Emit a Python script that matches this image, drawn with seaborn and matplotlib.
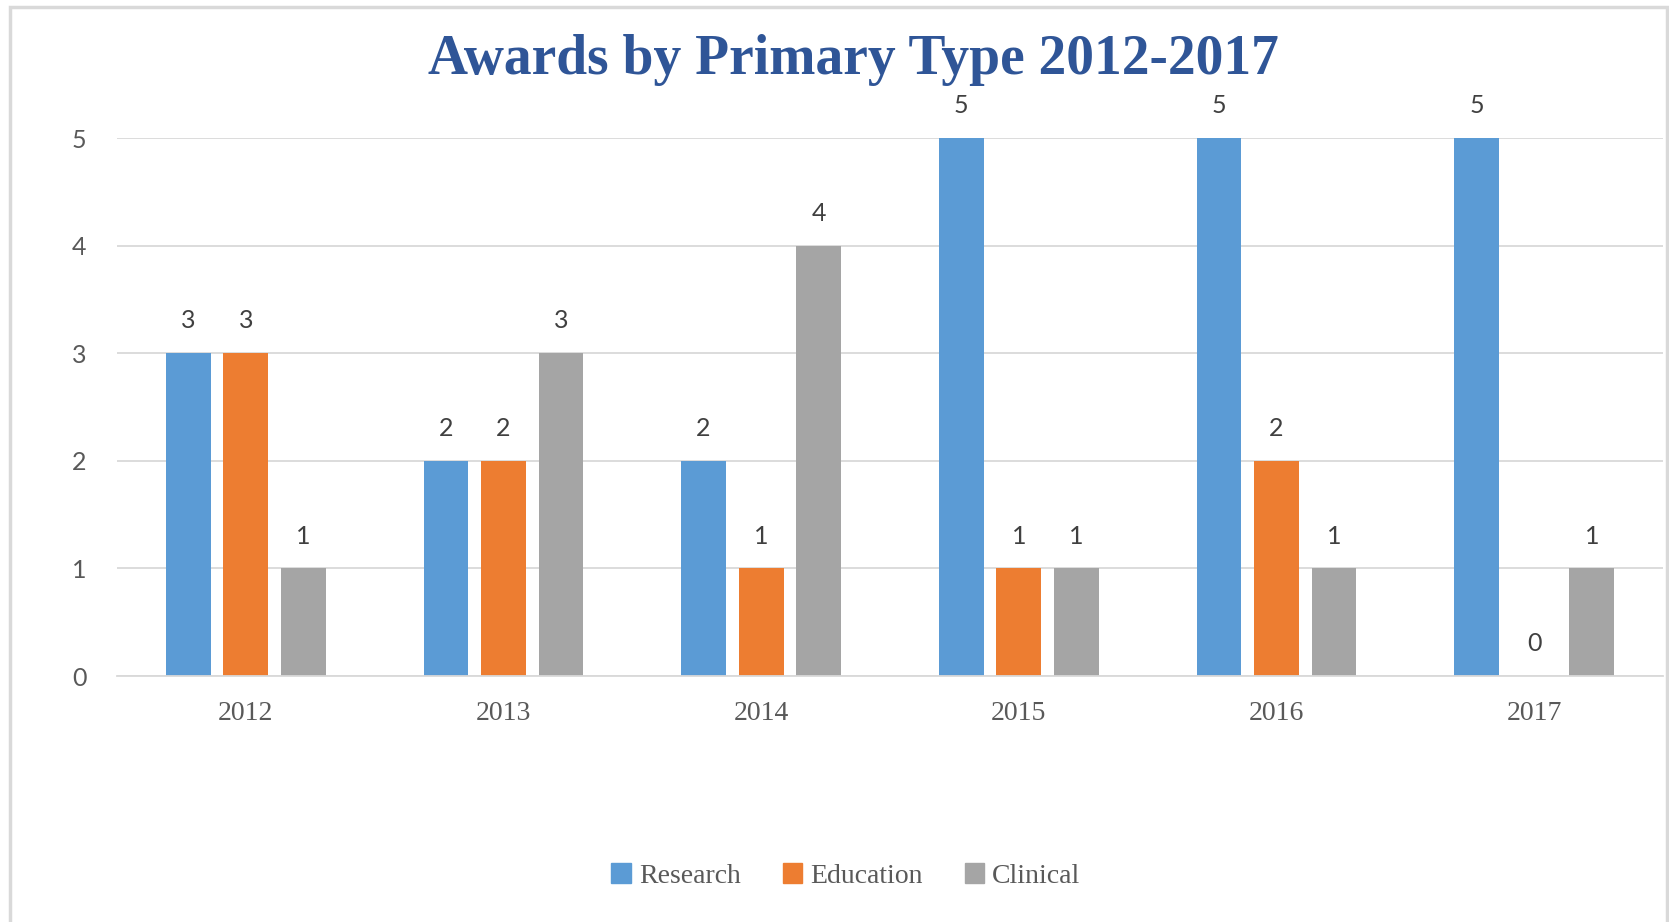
import pandas as pd
import matplotlib.pyplot as plt
import matplotlib.patches as mpatches
import seaborn as sns

# data
years = ["2012", "2013", "2014", "2015", "2016", "2017"]
research = [3, 2, 2, 5, 5, 5]
education = [3, 2, 1, 1, 2, 0]
clinical = [1, 3, 4, 1, 1, 1]
types = ["Research", "Education", "Clinical"]
colors = ["#5B9BD5", "#ED7D31", "#A5A5A5"]

df = pd.DataFrame({"Year": years * 3,
                   "Type": [t for t in types for _ in years],
                   "Awards": research + education + clinical})

sns.set_style("white")
plt.rcParams["font.family"] = ["Liberation Serif", "DejaVu Serif"]

fig = plt.figure(figsize=(16.69, 9.22), dpi=100)
ax = fig.add_axes([117 / 1669, 1 - 676 / 922, (1663 - 117) / 1669, (676 - 138) / 922])

sns.barplot(data=df, x="Year", y="Awards", hue="Type", order=years,
            hue_order=types, palette=colors, width=0.67, gap=0.22,
            saturation=1, legend=False, linewidth=0, ax=ax)

# value labels
for cont in ax.containers:
    ax.bar_label(cont, fmt="%d", padding=15, fontsize=18, color="#404040",
                 family="Lato", clip_on=False)

ax.set_xlim(-0.5, 5.5)
ax.set_ylim(0, 5)
ax.set_yticks(range(6))
ax.set_xlabel("")
ax.set_ylabel("")
ax.yaxis.grid(True, color="#D9D9D9", linewidth=1.3)
ax.set_axisbelow(True)
for s in ["top", "right", "left"]:
    ax.spines[s].set_visible(False)
ax.spines["bottom"].set_color("#D9D9D9")
ax.spines["bottom"].set_linewidth(1.3)
ax.tick_params(axis="x", length=0, pad=18, labelsize=20, labelcolor="#595959")
ax.tick_params(axis="y", length=0, pad=22, labelsize=18, labelcolor="#595959")
for lab in ax.get_yticklabels():
    lab.set_family("Lato")

# title
fig.text(853 / 1669, 1 - 60 / 922, "Awards by Primary Type 2012-2017",
         ha="center", va="center", fontsize=40, fontweight="bold", color="#2F5597")

# legend
handles = [mpatches.Patch(color=c, label=t) for c, t in zip(colors, types)]
fig.legend(handles=handles, loc="center", bbox_to_anchor=(846 / 1669, 1 - 876 / 922),
           ncol=3, frameon=False, fontsize=20, handlelength=0.7, handleheight=0.7,
           handletextpad=0.3, columnspacing=1.5, labelcolor="#595959")

# outer frame of the chart area
fig.patches.append(mpatches.Rectangle((10 / 1669, -0.01), (1667 - 10) / 1669, 1 - 7 / 922 + 0.01,
                                      transform=fig.transFigure, fill=False,
                                      edgecolor="#D9D9D9", linewidth=2.5))

fig.savefig("out.png", dpi=100)
